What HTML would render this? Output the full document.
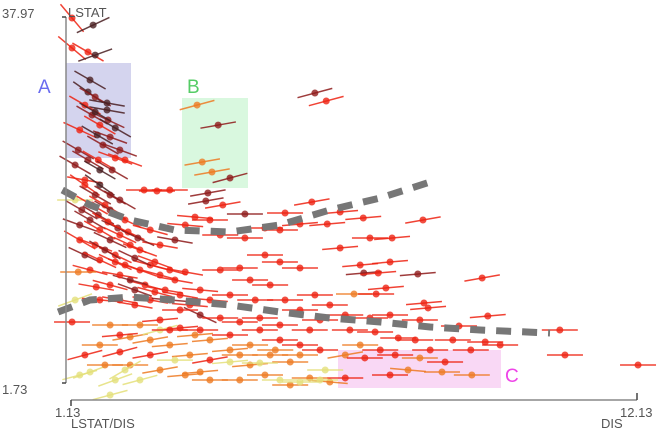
<!DOCTYPE html>
<html><head><meta charset="utf-8"><style>
html,body{margin:0;padding:0;background:#fff;}
svg{display:block;font-family:"Liberation Sans",sans-serif;}
</style></head><body>
<svg id="chart" width="664" height="436" viewBox="0 0 664 436">
<rect x="66" y="63" width="65" height="95" fill="#d4d4ee"/>
<rect x="182" y="98" width="66" height="90" fill="#d9f8df"/>
<rect x="338" y="350" width="163" height="38" fill="#f9d8f5"/>
<text x="38" y="93" font-size="19" fill="#6a6cf0">A</text>
<text x="187" y="93" font-size="19" fill="#55cc66">B</text>
<text x="505" y="382" font-size="19" fill="#ee44e8">C</text>
<g id="marks"></g>
<g id="curves"></g>
<line x1="66" y1="17" x2="66" y2="383" stroke="#888" stroke-width="1.5"/>
<line x1="62" y1="17" x2="66" y2="17" stroke="#444" stroke-width="1.5"/>
<line x1="62" y1="383" x2="66" y2="383" stroke="#444" stroke-width="1.5"/>
<line x1="71" y1="400" x2="637" y2="400" stroke="#888" stroke-width="1.5"/>
<line x1="71" y1="400" x2="71" y2="406" stroke="#444" stroke-width="1.5"/>
<line x1="637" y1="393" x2="637" y2="400" stroke="#444" stroke-width="1.5"/>
<text x="2" y="18" font-size="13" fill="#555">37.97</text>
<text x="68" y="17" font-size="13" fill="#555">LSTAT</text>
<text x="2" y="394" font-size="13" fill="#555">1.73</text>
<text x="55" y="417" font-size="13" fill="#555">1.13</text>
<text x="71" y="428" font-size="13" fill="#555">LSTAT/DIS</text>
<text x="620" y="417" font-size="13" fill="#555">12.13</text>
<text x="601" y="428" font-size="13" fill="#555">DIS</text>
</svg>
<script>
const disValues=[1.15,1.56,1.15,1.46,1.60,1.50,1.46,1.60,1.83,1.83,1.40,1.54,1.69,1.30,1.64,1.89,1.75,2.08,1.46,1.99,1.69,2.18,
3.58,3.99,3.68,3.87,4.22,2.55,2.80,3.05,3.79,3.75,4.08,
1.21,1.40,1.60,1.79,1.89,2.18,1.50,1.69,1.89,2.08,2.28,2.47,1.30,1.40,1.69,1.99,2.18,2.47,2.67,2.86,2.57,2.96,3.15,1.50,1.27,1.62,1.89,2.28,2.08,2.37,2.67,3.05,3.44,3.64,3.83,1.30,2.67,2.86,3.15,3.35,3.54,3.83,4.03,4.51,4.90,5.19,4.51,5.58,5.29,6.11,6.36,5.81,5.87,6.09,6.36,6.81,6.94,7.37,7.97,9.12,6.75,7.33,6.82,7.10,6.63,7.06,7.25,7.87,7.99,8.07,9.23,8.67,4.90,5.19,5.58,4.41,4.03,4.61,5.00,4.22,4.71,5.29,5.87,6.16,5.58,5.97,6.46,6.94,7.33,7.91,6.55,7.04,7.49,7.82,8.55,9.18,10.63,10.73,12.15,
6.46,6.84,7.43,7.91,8.40,6.46,7.33,8.34,8.92,7.68,6.16,5.77,
1.89,2.28,2.67,3.05,3.44,3.83,4.22,4.61,5.00,5.39,2.28,2.86,3.35,3.83,4.41,4.90,5.39,1.69,1.40,2.08,2.67,2.86,3.25,3.64,4.22,4.80,5.19,5.58,5.97,5.77,
1.15,1.21,1.30,1.50,1.99,1.89,2.18,2.86,3.15,4.22,4.80,5.19,5.58,5.97,
1.21,1.34,1.54,1.66,1.85,2.04,2.24,2.43,1.60,1.79,1.99,2.37,2.76,3.05,3.35,2.08,2.37,2.76,3.25,1.69,1.40,1.69,1.89,2.08,1.27,1.66,1.93,1.85,1.60,1.99,
3.64,4.03,4.41,4.80,5.19,3.25,3.05,3.54,4.61,5.10,5.58,2.47,2.08,3.83,4.41,1.79,2.47,3.64,6.07,6.75,7.14,8.11,8.90,9.47];
const lstatValues=[37.87,37.17,34.90,34.50,34.20,31.73,30.54,30.05,29.45,28.76,29.25,28.26,27.27,26.78,26.28,26.08,25.29,24.80,23.81,24.01,22.82,23.81,
29.25,27.27,23.61,22.62,22.03,20.84,20.74,20.84,20.54,19.75,19.35,
23.31,21.33,20.34,19.35,18.86,17.87,17.87,16.88,15.89,16.38,15.39,14.90,15.89,14.40,13.91,14.40,13.41,12.92,13.41,12.42,11.43,10.94,11.93,12.92,12.72,11.23,11.43,11.93,9.95,9.45,9.95,9.95,9.45,10.94,9.95,17.37,16.88,15.39,15.89,17.37,18.16,17.87,16.38,16.09,17.08,16.88,18.46,17.47,18.56,17.47,15.10,19.65,30.44,29.65,18.66,18.07,16.09,16.09,17.87,12.13,13.41,13.71,12.62,12.62,10.54,10.54,11.14,12.52,9.65,9.16,8.36,7.37,14.40,13.71,13.12,13.12,12.92,11.93,11.43,10.44,9.95,9.95,10.44,9.45,8.96,7.97,8.46,8.17,8.46,7.97,6.98,6.78,6.19,5.99,5.99,5.79,6.98,4.50,3.51,
4.50,4.21,4.50,4.21,3.81,2.23,2.52,2.82,2.52,3.02,1.83,2.23,
7.47,6.28,5.99,5.49,4.50,5.99,5.00,3.51,4.50,3.81,3.51,3.02,2.52,2.03,2.03,2.52,1.53,5.49,4.50,4.80,4.50,7.97,7.18,6.98,6.48,6.98,5.99,5.49,5.00,6.98,
7.77,9.95,2.52,2.82,2.03,0.54,3.02,6.98,3.99,3.81,3.71,2.03,1.83,2.03,
19.85,18.86,19.35,18.36,17.67,17.08,16.68,16.09,15.39,14.90,13.71,14.10,13.71,12.92,12.72,12.42,10.94,10.74,10.44,9.95,21.83,21.33,20.34,19.85,24.80,23.81,22.82,27.77,28.56,26.98,
8.46,8.17,7.77,8.17,7.47,8.96,6.98,6.48,5.49,5.00,4.50,7.47,6.48,4.01,4.50,3.51,2.03,2.82,3.02,5.49,5.00,5.00,5.00,5.49];
const groupValues=[2,0,2,2,0,0,0,1,0,0,2,1,2,2,0,1,1,1,1,2,0,2,
3,1,3,3,1,2,2,2,1,1,2,
1,2,1,2,1,2,1,2,1,2,2,2,2,1,2,2,2,2,2,2,2,2,2,2,3,2,2,1,2,2,2,1,2,2,2,1,2,2,1,2,2,2,2,2,2,2,1,2,2,2,2,2,1,2,2,2,2,2,2,2,2,2,1,2,3,2,2,1,2,2,2,2,2,2,2,2,2,2,2,2,2,2,2,2,2,2,2,2,2,2,2,2,2,2,2,2,2,2,2,3,
2,2,3,2,2,2,3,3,3,3,3,3,
3,3,3,3,3,3,3,3,3,3,3,3,3,3,3,3,3,2,2,2,2,2,2,2,2,2,2,2,2,2,
4,4,4,4,4,4,4,4,4,4,4,4,4,4,
1,2,1,2,1,2,1,2,1,2,1,2,2,2,2,1,2,2,2,2,0,1,1,1,2,1,1,0,0,1,
2,2,2,2,2,2,3,3,3,3,3,2,2,3,3,4,3,4,3,2,2,2,2,2];
const slopeValues=[50,-25,40,30,-20,30,35,30,10,10,30,30,30,25,30,20,30,20,30,20,30,20,
-15,-10,-10,-10,-15,0,0,0,-10,-10,-10,
30,35,30,30,30,25,30,30,25,25,25,20,30,25,25,25,20,20,15,15,15,10,10,15,0,10,15,15,10,10,10,5,5,5,5,20,15,10,10,5,5,0,0,0,0,0,0,-5,0,-5,-5,-10,-15,-15,-5,-5,0,-5,-10,-10,-5,-5,-5,-5,0,0,-5,-5,-5,-5,-5,0,0,0,0,0,0,0,0,0,0,0,0,0,0,0,0,0,0,0,0,0,0,0,0,0,0,0,0,-10,
0,0,0,0,0,0,0,0,5,5,0,0,
-10,-10,-5,-5,-5,-5,-5,0,0,0,-10,-5,0,0,0,0,0,-15,-15,-10,-5,-5,0,0,0,0,0,0,0,0,
-20,-15,-20,-20,-15,-30,-15,0,-5,0,0,0,0,0,
30,30,30,30,25,25,25,20,30,25,25,20,15,10,10,20,15,10,5,10,35,30,30,30,30,30,25,30,30,25,
0,0,0,0,0,0,-5,0,0,0,0,-5,-10,0,0,-15,-5,0,0,0,0,0,0,0];
const upperCurveX=[0.96,1.50,2.28,3.15,4.22,5.19,6.16,7.14,8.11];
const upperCurveY=[20.84,19.35,17.87,16.88,16.68,17.37,18.86,20.05,21.63];
const lowerCurveX=[0.88,1.50,2.28,3.15,4.22,5.19,6.16,7.14,8.11,9.08,10.44];
const lowerCurveY=[8.76,9.95,10.24,9.95,9.45,8.76,8.17,7.77,7.27,6.98,6.68];
const groupColors=["#4a1f22","#8e1a1a","#ee2211","#ee7a22","#e4e07a"];

const xMin=1.13,xMax=12.13,yMin=1.73,yMax=37.97;
function xScale(v){return 71+(v-xMin)/(xMax-xMin)*566;}
function yScale(v){return 383-(v-yMin)/(yMax-yMin)*366;}
const NS="http://www.w3.org/2000/svg";
const marks=document.getElementById('marks');
for(let i=0;i<disValues.length;i++){
  const cx=xScale(disValues[i]),cy=yScale(lstatValues[i]);
  const a=(slopeValues[i]||0)*Math.PI/180,L=18;
  const dx=Math.cos(a)*L,dy=Math.sin(a)*L;
  const col=groupColors[groupValues[i]];
  const ln=document.createElementNS(NS,'line');
  ln.setAttribute('x1',cx-dx);ln.setAttribute('y1',cy-dy);
  ln.setAttribute('x2',cx+dx);ln.setAttribute('y2',cy+dy);
  ln.setAttribute('stroke',col);ln.setAttribute('stroke-width','1.5');ln.setAttribute('opacity','0.85');
  
  
  marks.appendChild(ln);
  const c=document.createElementNS(NS,'circle');
  c.setAttribute('cx',cx);c.setAttribute('cy',cy);c.setAttribute('r','3.5');
  c.setAttribute('fill',col);c.setAttribute('opacity','0.8');
  
  
  marks.appendChild(c);
}
const curves=document.getElementById('curves');
function drawCurve(xs,ys,name){
  let d='';
  for(let i=0;i<xs.length;i++){d+=(i?'L':'M')+xScale(xs[i]).toFixed(1)+','+yScale(ys[i]).toFixed(1);}
  const p=document.createElementNS(NS,'path');
  p.setAttribute('d',d);p.setAttribute('fill','none');p.setAttribute('stroke','#777');
  p.setAttribute('stroke-width','7');p.setAttribute('stroke-dasharray','15 11');
  
  
  curves.appendChild(p);
}
drawCurve(upperCurveX,upperCurveY,'upper-dashed-curve');
drawCurve(lowerCurveX,lowerCurveY,'lower-dashed-curve');
</script>
</body></html>
